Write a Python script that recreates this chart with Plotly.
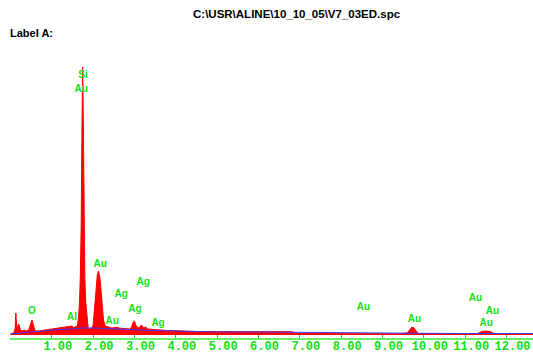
import plotly.graph_objects as go

# Spectrum (energy keV, counts)
spec_energy = [0.00, 0.08, 0.11, 0.13, 0.15, 0.17, 0.19, 0.21, 0.24, 0.28, 0.33, 0.38, 0.44, 0.48, 0.52, 0.56, 0.60,
               0.70, 0.80, 0.90, 1.00, 1.10, 1.20, 1.30, 1.40, 1.45, 1.49, 1.53, 1.58,
               1.62, 1.65, 1.67, 1.69, 1.71, 1.73, 1.745, 1.76, 1.78, 1.80, 1.82, 1.85, 1.88, 1.92,
               1.97, 2.00, 2.03, 2.06, 2.10, 2.13, 2.17, 2.21, 2.25, 2.29, 2.35, 2.45, 2.55, 2.58, 2.62,
               2.75, 2.88, 2.93, 2.97, 3.00, 3.04, 3.10, 3.17, 3.22, 3.27, 3.32, 3.45, 3.60, 3.80, 4.00,
               4.20, 4.50, 5.00, 5.50, 6.00, 6.50, 6.80, 6.90, 7.50, 8.50, 9.40, 9.60, 9.65, 9.70, 9.75,
               9.80, 9.86, 10.30, 11.00, 11.30, 11.40, 11.50, 11.60, 11.70, 12.65]
spec_counts = [10, 20, 60, 220, 80, 60, 110, 100, 50, 40, 50, 40, 50, 100, 150, 90, 40,
               40, 50, 55, 60, 65, 70, 75, 80, 90, 90, 75, 80,
               90, 200, 330, 600, 1100, 2100, 2680, 2200, 1100, 550, 330, 170, 70, 60,
               70, 100, 250, 450, 600, 640, 550, 350, 150, 90, 80, 70, 75, 80, 70,
               65, 60, 80, 130, 140, 90, 70, 100, 70, 80, 60, 55, 50, 45, 42,
               38, 35, 34, 33, 33, 33, 33, 15, 13, 12, 12, 20, 50, 75, 75,
               50, 15, 12, 12, 15, 35, 40, 35, 15, 10]

# Background (blue line)
bg_energy = [0.0, 0.5, 1.0, 1.5, 1.7, 2.0, 2.5, 3.0, 3.5, 4.0, 4.5, 5.0, 6.0, 7.0, 8.0, 9.0, 10.0, 11.0, 12.65]
bg_counts = [10, 30, 50, 60, 70, 70, 60, 50, 45, 40, 35, 30, 30, 25, 20, 20, 17, 15, 15]

# Element labels
label_text = ["Si", "Au", "Au", "Ag", "Ag", "Ag", "Au", "Ag", "Al", "O", "Au", "Au", "Au", "Au", "Au"]
label_energy = [1.755, 1.71, 2.17, 3.21, 2.68, 3.01, 2.46, 3.57, 1.49, 0.52, 8.54, 9.77, 11.25, 11.66, 11.51]
label_counts = [2600, 2460, 710, 530, 410, 260, 140, 120, 180, 240, 280, 160, 370, 240, 120]

tick_vals = [1, 2, 3, 4, 5, 6, 7, 8, 9, 10, 11, 12]
tick_text = ["%.2f" % v for v in tick_vals]

GREEN = "#11e011"

fig = go.Figure()
fig.add_trace(go.Scatter(x=spec_energy, y=spec_counts, mode="lines", fill="tozeroy",
                         line=dict(color="#ff0000", width=1), fillcolor="#ff0000", hoverinfo="skip"))
fig.add_trace(go.Scatter(x=bg_energy, y=bg_counts, mode="lines",
                         line=dict(color="#3a3aff", width=1), hoverinfo="skip"))
fig.add_trace(go.Scatter(x=label_energy, y=label_counts, mode="text", text=label_text,
                         textfont=dict(family="Arial", size=10, color=GREEN, weight="bold"),
                         hoverinfo="skip"))

fig.update_layout(
    template="none",
    width=533, height=354,
    margin=dict(l=10, r=0, t=60, b=16),
    paper_bgcolor="white", plot_bgcolor="white",
    showlegend=False,
    annotations=[
        dict(text="C:\\USR\\ALINE\\10_10_05\\V7_03ED.spc", xref="paper", yref="paper",
             x=(297 - 10) / 523, y=(354 - 16 - 14) / 278, xanchor="center", yanchor="middle",
             showarrow=False, font=dict(family="Arial", size=11.5, color="black", weight="bold")),
        dict(text="Label A:", xref="paper", yref="paper",
             x=(8 - 10) / 523, y=(354 - 16 - 33) / 278, xanchor="left", yanchor="middle",
             showarrow=False, font=dict(family="Arial", size=11, color="black", weight="bold")),
    ],
)
fig.update_xaxes(range=[-0.012, 12.64], showgrid=False, zeroline=False, automargin=False,
                 showline=True, linecolor="#66f066", linewidth=2,
                 ticks="inside", ticklen=3, tickcolor=GREEN, tickwidth=1,
                 tickvals=tick_vals, ticktext=tick_text, ticklabelshift=6, ticklabelstandoff=-4,
                 tickfont=dict(family="Liberation Mono", size=12, color=GREEN, weight="bold"))
fig.update_yaxes(range=[-30, 2750], visible=False, automargin=False)

fig.write_html("out.html", config={"displayModeBar": False},
               post_script="document.body.style.margin='0';document.body.style.overflow='hidden';")
